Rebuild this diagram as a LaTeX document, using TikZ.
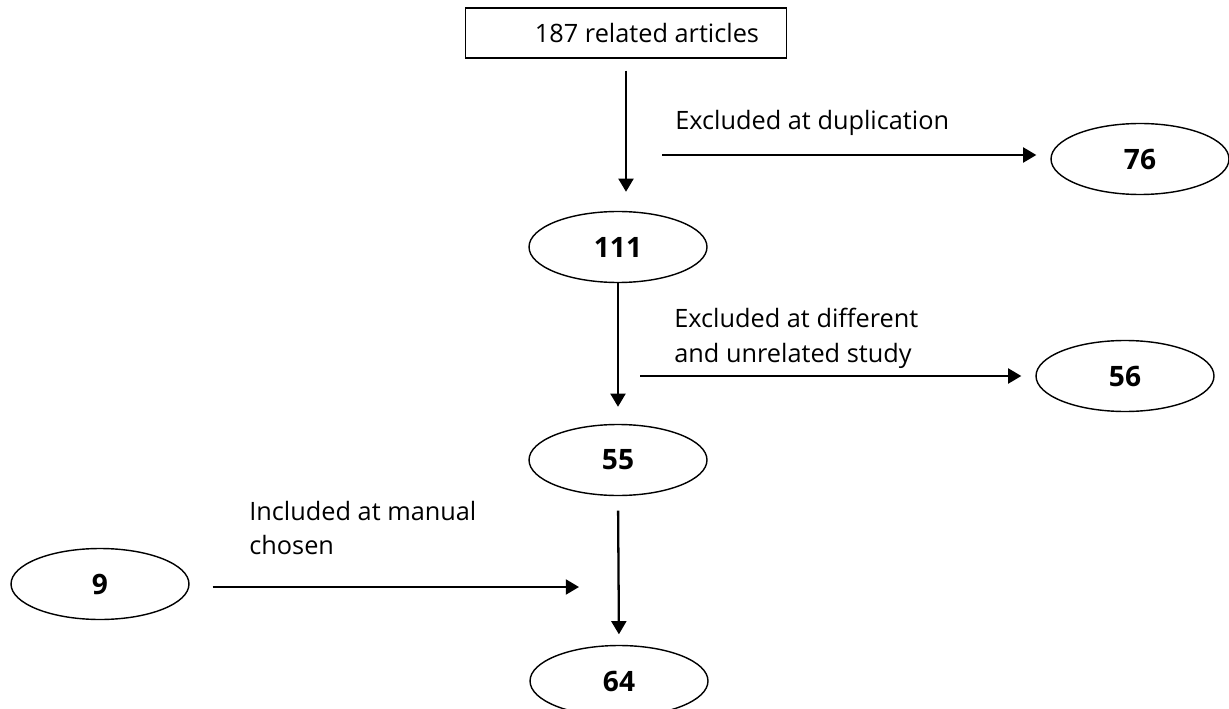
\documentclass[tikz,border=0pt]{standalone}
\usepackage{fontspec}
\setmainfont{Open Sans}
\usetikzlibrary{shapes.geometric,arrows.meta}
\tikzset{startbox/.style={draw,line width=0.7pt,minimum width=6.42cm,minimum height=1cm,inner sep=0pt,font=\fontsize{14.4}{17}\selectfont},
countnode/.style={draw,ellipse,line width=0.8pt,minimum width=3.56cm,minimum height=1.42cm,inner sep=0pt,font=\bfseries\fontsize{16}{19}\selectfont},
steplabel/.style={anchor=west,inner sep=0pt,align=left,font=\fontsize{14.4}{19.8}\selectfont},
flowarrow/.style={line width=1.3pt,-{Triangle[length=7.5pt,width=8.5pt]}}}
\begin{document}
\begin{tikzpicture}[x=0.02cm,y=-0.02cm]
\useasboundingbox (0,0) rectangle (1229,709);
% main column
\node[startbox] (start) at (626,33) {\hspace*{0.84cm}187 related articles};
\node[countnode] (n111) at (618,247) {111};
\node[countnode] (n55) at (618,460) {55};
\node[countnode] (n64) at (619,681) {64};
% excluded and included counts
\node[countnode] (n76) at (1140,159) {76};
\node[countnode] (n56) at (1125,376) {56};
\node[countnode] (n9) at (100,584) {9};
% free ends of the side arrows
\coordinate (dup) at (662,155);
\coordinate (diff) at (640,376);
\coordinate (join) at (579,587);
% vertical flow
\draw[flowarrow,shorten <=0.24cm,shorten >=0.38cm] (start.south) -- (start.south |- n111.north);
\draw[flowarrow,shorten >=0.34cm] (n111.south) -- (n55.north);
\draw[flowarrow,shorten <=0.29cm,shorten >=0.21cm] (n55.south) -- (n64.north);
% side arrows
\draw[flowarrow,shorten >=0.28cm] (dup) -- (dup -| n76.west);
\draw[flowarrow,shorten >=0.28cm] (diff) -- (n56.west);
\draw[flowarrow,shorten <=0.46cm] (n9.east |- join) -- (join);
% labels on the side arrows
\node[steplabel] (lab1) at (675,123) {Excluded at duplication};
\node[steplabel] (lab2) at (674,338) {Excluded at different\\and unrelated study};
\node[steplabel] (lab3) at (249,528) {Included at manual\\chosen};
\end{tikzpicture}
\end{document}
